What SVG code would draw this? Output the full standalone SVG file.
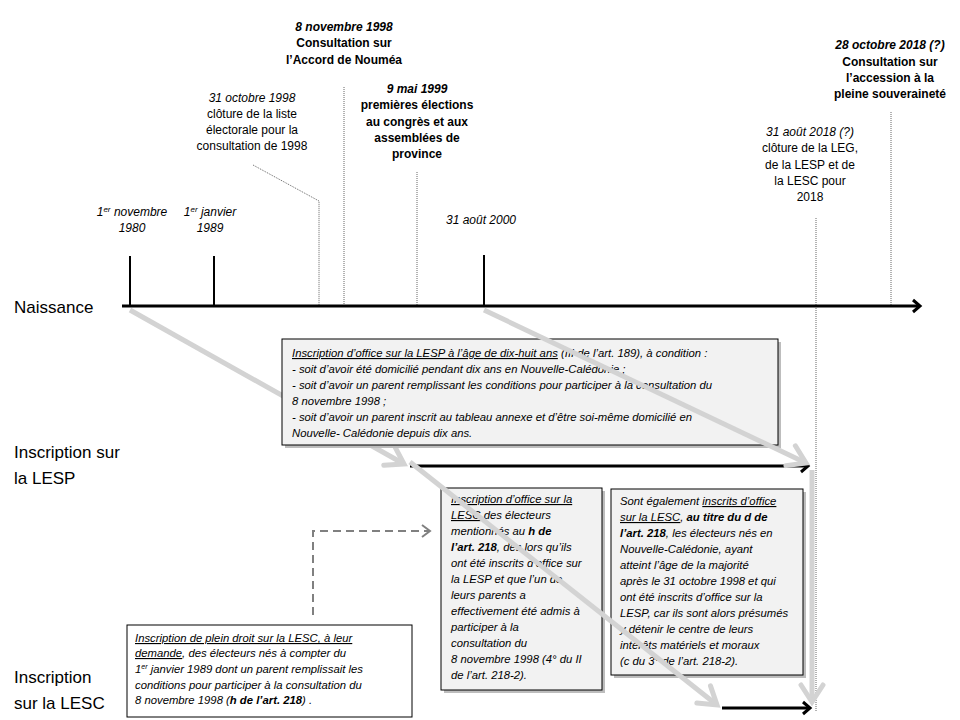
<svg xmlns="http://www.w3.org/2000/svg" width="960" height="720" viewBox="0 0 960 720">
<defs>
<style>
text{font-family:"Liberation Sans",Arial,sans-serif;fill:#000}
.lbl{font-size:12px;text-anchor:middle}
.it{font-style:italic}
.b{font-weight:bold}
.big{font-size:17px}
.box{font-size:11.3px;font-style:italic}
.u{text-decoration:underline}
.dot{stroke:#666;stroke-width:1;stroke-dasharray:1,1;fill:none}
.tick{stroke:#000;stroke-width:2;fill:none}
.blk{stroke:#000;stroke-width:3;fill:none}
.gry{stroke:#d3d3d3;stroke-width:5;fill:none}
.bx{fill:#f2f2f2;stroke:#000;stroke-width:1}
.sh{fill:#bdbdbd}
</style>
<marker id="bh" markerUnits="userSpaceOnUse" markerWidth="20" markerHeight="20" viewBox="-10 -10 20 20" refX="0" refY="0" orient="auto">
<path d="M-7,-6 L0,0 L-7,6" stroke="#000" stroke-width="3" fill="none"/>
</marker>
<marker id="gh" markerUnits="userSpaceOnUse" markerWidth="40" markerHeight="40" viewBox="-20 -20 40 40" refX="0" refY="0" orient="auto">
<path d="M-17,-11 L0,0 L-17,11" stroke="#d3d3d3" stroke-width="5" fill="none" stroke-linecap="round"/>
</marker>
<marker id="dh" markerUnits="userSpaceOnUse" markerWidth="20" markerHeight="20" viewBox="-10 -10 20 20" refX="0" refY="0" orient="auto">
<path d="M-8,-6 L0,0 L-8,6" stroke="#808080" stroke-width="2" fill="none"/>
</marker>
</defs>
<rect width="960" height="720" fill="#fff"/>

<g id="connectors">
<path class="dot" d="M253,165 L319,201 L319,306"/>
<line class="dot" x1="344" y1="87" x2="344" y2="306"/>
<line class="dot" x1="417" y1="172" x2="417" y2="306"/>
<line class="dot" x1="816" y1="218" x2="816" y2="712"/>
<line class="dot" x1="891" y1="112" x2="891" y2="306"/>
<line class="tick" x1="130" y1="256" x2="130" y2="306"/>
<line class="tick" x1="214" y1="256" x2="214" y2="306"/>
<line class="tick" x1="484" y1="255" x2="484" y2="306"/>
<line class="gry" x1="130" y1="310" x2="404" y2="464" marker-end="url(#gh)"/>
</g>

<g id="timeline">
<line class="blk" x1="122" y1="306" x2="920" y2="306" marker-end="url(#bh)"/>
<text class="big" x="14" y="313">Naissance</text>
</g>

<g id="date-1980"><text class="lbl it" x="132" y="216">1<tspan font-size="8" dy="-4">er</tspan><tspan dy="4"> novembre</tspan></text><text class="lbl it" x="132" y="232">1980</text></g>
<g id="date-1989"><text class="lbl it" x="210" y="216">1<tspan font-size="8" dy="-4">er</tspan><tspan dy="4"> janvier</tspan></text><text class="lbl it" x="210" y="232">1989</text></g>
<g id="date-oct1998">
<text class="lbl it" x="252" y="102">31 octobre 1998</text>
<text class="lbl" x="252" y="118">clôture de la liste</text>
<text class="lbl" x="252" y="134">électorale pour la</text>
<text class="lbl" x="252" y="150">consultation de 1998</text>
</g>
<g id="date-nov1998">
<text class="lbl it b" x="344" y="31">8 novembre 1998</text>
<text class="lbl b" x="344" y="47">Consultation sur</text>
<text class="lbl b" x="344" y="64">l’Accord de Nouméa</text>
</g>
<g id="date-1999">
<text class="lbl it b" x="417" y="93">9 mai 1999</text>
<text class="lbl b" x="417" y="109">premières élections</text>
<text class="lbl b" x="417" y="126">au congrès et aux</text>
<text class="lbl b" x="417" y="142">assemblées de</text>
<text class="lbl b" x="417" y="158">province</text>
</g>
<g id="date-2000"><text class="lbl it" x="481" y="224">31 août 2000</text></g>
<g id="date-aug2018">
<text class="lbl it" x="810" y="136">31 août 2018 (?)</text>
<text class="lbl" x="810" y="152">clôture de la LEG,</text>
<text class="lbl" x="810" y="169">de la LESP et de</text>
<text class="lbl" x="810" y="185">la LESC pour</text>
<text class="lbl" x="810" y="201">2018</text>
</g>
<g id="date-oct2018">
<text class="lbl it b" x="890" y="49">28 octobre 2018 (?)</text>
<text class="lbl b" x="890" y="66">Consultation sur</text>
<text class="lbl b" x="890" y="82">l’accession à la</text>
<text class="lbl b" x="890" y="98">pleine souveraineté</text>
</g>

<g id="box-lesp">
<rect class="sh" x="285" y="342" width="496" height="106"/>
<rect class="bx" x="282" y="339" width="496" height="106"/>
<text class="box" x="292" y="357"><tspan class="u">Inscription d’office sur la LESP à l’âge de dix-huit ans</tspan> (III de l’art. 189), à condition :</text>
<text class="box" x="292" y="373">- soit d’avoir été domicilié pendant dix ans en Nouvelle-Calédonie ;</text>
<text class="box" x="292" y="389">- soit d’avoir un parent remplissant les conditions pour participer à la consultation du</text>
<text class="box" x="292" y="405">8 novembre 1998 ;</text>
<text class="box" x="292" y="421">- soit d’avoir un parent inscrit au tableau annexe et d’être soi-même domicilié en</text>
<text class="box" x="292" y="437">Nouvelle- Calédonie depuis dix ans.</text>
</g>

<g id="lesp-row">
<text class="big" x="14" y="458">Inscription sur</text>
<text class="big" x="14" y="484">la LESP</text>
<line class="blk" x1="410" y1="466" x2="808" y2="466" marker-end="url(#bh)"/>
</g>

<g id="connectors-2">
<line class="gry" x1="484" y1="310" x2="806" y2="463" marker-end="url(#gh)"/>
<line class="gry" x1="812" y1="470" x2="812" y2="702" marker-end="url(#gh)"/>
<path d="M313,615 L313,531 L430,531" stroke="#808080" stroke-width="2" stroke-dasharray="8,5" fill="none" marker-end="url(#dh)"/>
</g>

<g id="box-lesc-h">
<rect class="sh" x="444" y="491" width="161" height="202"/>
<rect class="bx" x="441" y="488" width="161" height="202"/>
<text class="box" x="451" y="503"><tspan class="u">Inscription d’office sur la</tspan></text>
<text class="box" x="451" y="519"><tspan class="u">LESC</tspan> des électeurs</text>
<text class="box" x="451" y="535">mentionnés au <tspan class="b">h de</tspan></text>
<text class="box" x="451" y="551"><tspan class="b">l’art. 218</tspan>, dès lors qu’ils</text>
<text class="box" x="451" y="567">ont été inscrits d’office sur</text>
<text class="box" x="451" y="583">la LESP et que l’un de</text>
<text class="box" x="451" y="599">leurs parents a</text>
<text class="box" x="451" y="615">effectivement été admis à</text>
<text class="box" x="451" y="631">participer à la</text>
<text class="box" x="451" y="647">consultation du</text>
<text class="box" x="451" y="663">8 novembre 1998 (4° du II</text>
<text class="box" x="451" y="679">de l’art. 218-2).</text>
</g>

<g id="box-lesc-d">
<rect class="sh" x="614" y="492" width="192" height="186"/>
<rect class="bx" x="611" y="489" width="192" height="186"/>
<text class="box" x="620" y="505">Sont également <tspan class="u">inscrits d’office</tspan></text>
<text class="box" x="620" y="521"><tspan class="u">sur la LESC</tspan>, <tspan class="b">au titre du d de</tspan></text>
<text class="box" x="620" y="537"><tspan class="b">l’art. 218</tspan>, les électeurs nés en</text>
<text class="box" x="620" y="553">Nouvelle-Calédonie, ayant</text>
<text class="box" x="620" y="569">atteint l’âge de la majorité</text>
<text class="box" x="620" y="585">après le 31 octobre 1998 et qui</text>
<text class="box" x="620" y="601">ont été inscrits d’office sur la</text>
<text class="box" x="620" y="617">LESP, car ils sont alors présumés</text>
<text class="box" x="620" y="633">y détenir le centre de leurs</text>
<text class="box" x="620" y="649">intérêts matériels et moraux</text>
<text class="box" x="620" y="665">(c du 3° de l’art. 218-2).</text>
</g>

<g id="connectors-3">
<line class="gry" x1="410" y1="462" x2="717" y2="705" marker-end="url(#gh)"/>
</g>

<g id="box-plein-droit">
<rect x="127" y="625" width="285" height="92" fill="#fff" stroke="#000" stroke-width="1"/>
<text class="box" x="135" y="642"><tspan class="u">Inscription de plein droit sur la LESC, à leur</tspan></text>
<text class="box" x="135" y="657"><tspan class="u">demande</tspan>, des électeurs nés à compter du</text>
<text class="box" x="135" y="673">1<tspan font-size="7" dy="-4">er</tspan><tspan dy="4"> janvier 1989 dont un parent remplissait les</tspan></text>
<text class="box" x="135" y="689">conditions pour participer à la consultation du</text>
<text class="box" x="135" y="704">8 novembre 1998 (<tspan class="b">h de l’art. 218</tspan>) .</text>
</g>

<g id="lesc-row">
<text class="big" x="14" y="683">Inscription</text>
<text class="big" x="14" y="709">sur la LESC</text>
<line class="blk" x1="722" y1="708" x2="810" y2="708" marker-end="url(#bh)"/>
</g>
</svg>
